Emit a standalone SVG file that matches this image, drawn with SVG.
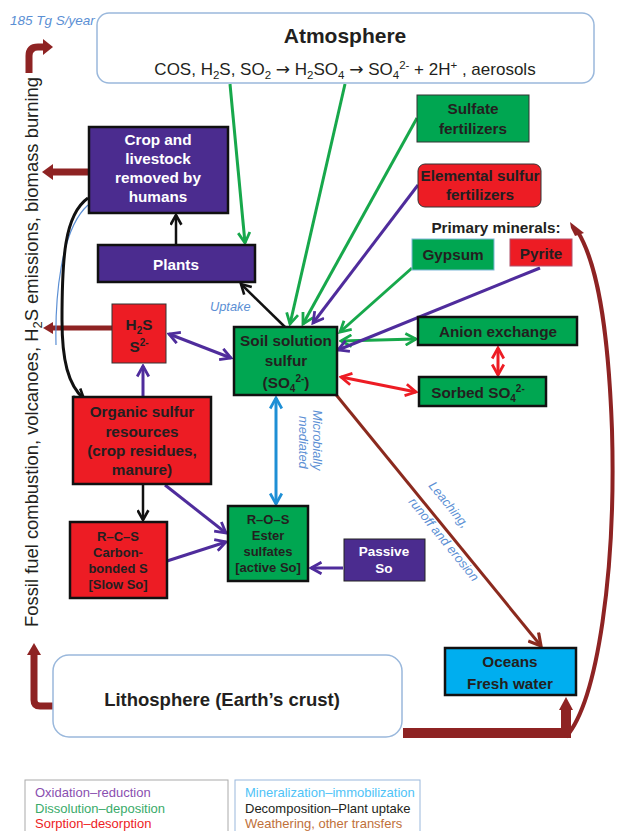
<svg xmlns="http://www.w3.org/2000/svg" width="618" height="831" viewBox="0 0 618 831">
<style>
.t{font-family:"Liberation Sans",Arial,sans-serif;}
.b{font-family:"Liberation Sans",Arial,sans-serif;font-weight:bold;font-size:15.3px;fill:#231f20;text-anchor:middle;}
.s{font-size:13px;}
.w{fill:#ffffff;}
.lab{font-family:"Liberation Sans",Arial,sans-serif;font-style:italic;font-size:12.8px;fill:#5b8fd4;}
.pur{fill:#4b2c8f;stroke:#111;stroke-width:2.5;}
.grn{fill:#00a651;stroke:#111;stroke-width:2.5;}
.red{fill:#ed1c24;stroke:#111;stroke-width:2.5;}
.cyn{fill:#00aeef;stroke:#111;stroke-width:2.5;}
.cg{stroke:#17a84b;stroke-width:3;fill:none;}
.cp{stroke:#4f2c9c;stroke-width:3;fill:none;}
.cr{stroke:#ed1c24;stroke-width:3;fill:none;}
.cb{stroke:#1e8fd5;stroke-width:3;fill:none;}
.ck{stroke:#111;stroke-width:2.5;fill:none;}
.bw{fill:#8e2323;}
.ar{font-family:"DejaVu Sans",sans-serif;}
.leg{font-family:"Liberation Sans",Arial,sans-serif;font-size:13px;}
</style>
<defs>
<marker id="ag" viewBox="0 0 12 12" refX="10" refY="6" markerWidth="14" markerHeight="14" markerUnits="userSpaceOnUse" orient="auto-start-reverse"><path d="M1,1 L10,6 L1,11" fill="none" stroke="#17a84b" stroke-width="2.4"/></marker>
<marker id="ap" viewBox="0 0 12 12" refX="10" refY="6" markerWidth="14" markerHeight="14" markerUnits="userSpaceOnUse" orient="auto-start-reverse"><path d="M1,1 L10,6 L1,11" fill="none" stroke="#4f2c9c" stroke-width="2.4"/></marker>
<marker id="ar" viewBox="0 0 12 12" refX="10" refY="6" markerWidth="14" markerHeight="14" markerUnits="userSpaceOnUse" orient="auto-start-reverse"><path d="M1,1 L10,6 L1,11" fill="none" stroke="#ed1c24" stroke-width="2.4"/></marker>
<marker id="ab" viewBox="0 0 12 12" refX="10" refY="6" markerWidth="14" markerHeight="14" markerUnits="userSpaceOnUse" orient="auto-start-reverse"><path d="M1,1 L10,6 L1,11" fill="none" stroke="#1e8fd5" stroke-width="2.4"/></marker>
<marker id="ak" viewBox="0 0 12 12" refX="10" refY="6" markerWidth="13" markerHeight="13" markerUnits="userSpaceOnUse" orient="auto-start-reverse"><path d="M1,1 L10,6 L1,11" fill="none" stroke="#111" stroke-width="2.4"/></marker>
<marker id="aw" viewBox="0 0 12 12" refX="10" refY="6" markerWidth="16" markerHeight="16" markerUnits="userSpaceOnUse" orient="auto"><path d="M1,1 L10,6 L1,11" fill="none" stroke="#8b2a1e" stroke-width="2.4"/></marker>
</defs>
<rect width="618" height="831" fill="#ffffff"/>

<!-- side text -->
<text class="lab" x="10" y="25" style="font-size:13.5px">185 Tg S/year</text>
<text class="t" transform="translate(38,352) rotate(-90)" font-size="18.4" text-anchor="middle" fill="#231f20">Fossil fuel combustion, volcanoes, H<tspan font-size="13" dy="4">2</tspan><tspan dy="-4">S emissions, biomass burning</tspan></text>

<g id="connectors">
  <!-- brown block arrows -->
  <path d="M29,73 L29,56 Q29,47 38,47 L44,47" stroke="#8e2323" stroke-width="7" fill="none"/>
  <polygon class="bw" points="43,39 53,47 43,55"/>
  <line x1="88" y1="172" x2="52" y2="172" stroke="#8e2323" stroke-width="7"/>
  <polygon class="bw" points="53,164 42,172 53,180"/>
  <line x1="112" y1="328" x2="52" y2="328" stroke="#8e2323" stroke-width="5"/>
  <polygon class="bw" points="53,322 43,328 53,334"/>
  <path d="M54,706 L40,706 Q34,706 34,700 L34,654" stroke="#8e2323" stroke-width="7" fill="none"/>
  <polygon class="bw" points="27,655 34,643 41,655"/>
  <path d="M403,733 L566,733 L566,708" stroke="#8e2323" stroke-width="10" fill="none"/>
  <polygon class="bw" points="559,710 566,697 573,710"/>
  <path d="M566,737 C598,700 616,570 612,430 C608,320 596,262 578,232" stroke="#8e2323" stroke-width="4" fill="none"/>
  <polygon class="bw" points="570,222 584,233 575,236 571,228"/>

  <!-- green -->
  <line class="cg" x1="230" y1="84" x2="245" y2="243" marker-end="url(#ag)"/>
  <line class="cg" x1="345" y1="84" x2="290" y2="324" marker-end="url(#ag)"/>
  <line class="cg" x1="417" y1="118" x2="303" y2="324" marker-end="url(#ag)"/>
  <line class="cg" x1="412" y1="268" x2="340" y2="332" marker-end="url(#ag)"/>
  <line class="cg" x1="341" y1="341" x2="416" y2="339" marker-start="url(#ag)" marker-end="url(#ag)"/>
  <!-- purple -->
  <line class="cp" x1="418" y1="185" x2="313" y2="323" marker-end="url(#ap)"/>
  <line class="cp" x1="540" y1="268" x2="338" y2="350" marker-end="url(#ap)"/>
  <line class="cp" x1="169" y1="334" x2="231" y2="358" marker-start="url(#ap)" marker-end="url(#ap)"/>
  <line class="cp" x1="143" y1="397" x2="143" y2="366" marker-end="url(#ap)"/>
  <line class="cp" x1="165" y1="485" x2="226" y2="533" marker-end="url(#ap)"/>
  <line class="cp" x1="167" y1="561" x2="226" y2="542" marker-end="url(#ap)"/>
  <line class="cp" x1="343" y1="568" x2="311" y2="568" marker-end="url(#ap)"/>
  <!-- red -->
  <line class="cr" x1="498" y1="348" x2="498" y2="375" marker-start="url(#ar)" marker-end="url(#ar)"/>
  <line class="cr" x1="341" y1="377" x2="416" y2="392" marker-start="url(#ar)" marker-end="url(#ar)"/>
  <!-- blue -->
  <line class="cb" x1="276" y1="398" x2="276" y2="504" marker-start="url(#ab)" marker-end="url(#ab)"/>
  <!-- black -->
  <line class="ck" x1="176" y1="245" x2="176" y2="215" marker-end="url(#ak)"/>
  <line class="ck" x1="285" y1="327" x2="241" y2="284" marker-end="url(#ak)"/>
  <line class="ck" x1="143" y1="485" x2="143" y2="520" marker-end="url(#ak)"/>
  <path d="M88,205 C60,230 55,300 56,345" stroke="#5b8fd4" stroke-width="1.2" fill="none"/>
  <path d="M88,198 C64,215 62,260 62,320 C62,360 68,385 84,399" stroke="#111" stroke-width="3" fill="none" marker-end="url(#ak)"/>
  <!-- leaching -->
  <line x1="333" y1="391" x2="541" y2="646" stroke="#8b2a1e" stroke-width="3" marker-end="url(#aw)"/>
</g>

<!-- connector labels -->
<text class="lab" x="210" y="311">Uptake</text>
<text class="lab" transform="translate(313,410) rotate(90)">Microbially</text>
<text class="lab" transform="translate(299,416) rotate(90)">mediated</text>
<text class="lab" transform="translate(428,486) rotate(51)">Leaching,</text>
<text class="lab" transform="translate(408,502) rotate(51)">runoff and erosion</text>

<g id="atmosphere">
  <rect x="97" y="13" width="497" height="70" rx="12" fill="#fff" stroke="#9ab8dc" stroke-width="1.5"/>
  <text class="t" x="345" y="43" font-size="21" font-weight="bold" text-anchor="middle" fill="#231f20">Atmosphere</text>
  <text class="t" x="345" y="75" font-size="17" text-anchor="middle" fill="#231f20">COS, H<tspan font-size="11.5" dy="4">2</tspan><tspan dy="-4">S, SO</tspan><tspan font-size="11.5" dy="4">2</tspan><tspan dy="-4"> </tspan><tspan class="ar">→</tspan><tspan> H</tspan><tspan font-size="11.5" dy="4">2</tspan><tspan dy="-4">SO</tspan><tspan font-size="11.5" dy="4">4</tspan><tspan dy="-4"> </tspan><tspan class="ar">→</tspan><tspan> SO</tspan><tspan font-size="11.5" dy="4">4</tspan><tspan font-size="11.5" dy="-10">2-</tspan><tspan dy="6"> + 2H</tspan><tspan font-size="11.5" dy="-6">+</tspan><tspan dy="6"> , aerosols</tspan></text>
</g>

<g id="crop">
  <rect class="pur" x="89" y="127" width="139" height="86"/>
  <text class="b w" x="158" y="145">Crop and</text>
  <text class="b w" x="158" y="164">livestock</text>
  <text class="b w" x="158" y="183">removed by</text>
  <text class="b w" x="158" y="202">humans</text>
</g>
<g id="plants">
  <rect class="pur" x="98" y="245" width="157" height="37"/>
  <text class="b w" x="176" y="270">Plants</text>
</g>
<g id="sulfate-fert">
  <rect x="417" y="95" width="112" height="47" fill="#00a651" stroke="#333" stroke-width="1"/>
  <text class="b" x="473" y="114">Sulfate</text>
  <text class="b" x="473" y="134">fertilizers</text>
</g>
<g id="elemental-fert">
  <rect x="418" y="164" width="123" height="43" rx="7" fill="#ed1c24" stroke="#333" stroke-width="1"/>
  <text class="b" x="480" y="181">Elemental sulfur</text>
  <text class="b" x="480" y="200">fertilizers</text>
</g>
<text class="b" x="496" y="233">Primary minerals:</text>
<g id="gypsum">
  <rect x="412" y="239" width="82" height="31" fill="#00a651" stroke="#7fb8d8" stroke-width="1"/>
  <text class="b" x="453" y="260">Gypsum</text>
</g>
<g id="pyrite">
  <rect x="510" y="239" width="62" height="27" fill="#ed1c24" stroke="#b0506a" stroke-width="1"/>
  <text class="b" x="541" y="259">Pyrite</text>
</g>
<g id="h2s">
  <rect x="112" y="304" width="54" height="59" fill="#ed1c24" stroke="#333" stroke-width="1"/>
  <text class="b" x="139" y="330">H<tspan font-size="10" dy="4">2</tspan><tspan dy="-4">S</tspan></text>
  <text class="b" x="139" y="352">S<tspan font-size="10" dy="-6">2-</tspan></text>
</g>
<g id="soil">
  <rect class="grn" x="234" y="327" width="103" height="68"/>
  <text class="b" x="286" y="346">Soil solution</text>
  <text class="b" x="286" y="366">sulfur</text>
  <text class="b" x="286" y="388">(SO<tspan font-size="10" dy="4">4</tspan><tspan font-size="10" dy="-10">2-</tspan><tspan dy="6">)</tspan></text>
</g>
<g id="anion">
  <rect class="grn" x="418" y="317" width="159" height="28"/>
  <text class="b" x="498" y="337">Anion exchange</text>
</g>
<g id="sorbed">
  <rect class="grn" x="419" y="377" width="127" height="29"/>
  <text class="b" x="478" y="398">Sorbed SO<tspan font-size="10" dy="4">4</tspan><tspan font-size="10" dy="-10">2-</tspan></text>
</g>
<g id="organic">
  <rect class="red" x="73" y="397" width="138" height="87"/>
  <text class="b" x="142" y="417">Organic sulfur</text>
  <text class="b" x="142" y="437">resources</text>
  <text class="b" x="142" y="456">(crop residues,</text>
  <text class="b" x="142" y="475">manure)</text>
</g>
<g id="rcs">
  <rect class="red" x="70" y="522" width="97" height="76"/>
  <text class="b s" x="118" y="541">R–C–S</text>
  <text class="b s" x="118" y="557">Carbon-</text>
  <text class="b s" x="118" y="573">bonded S</text>
  <text class="b s" x="118" y="589">[Slow So]</text>
</g>
<g id="ros">
  <rect class="grn" x="228" y="506" width="80" height="75"/>
  <text class="b s" x="268" y="524">R–O–S</text>
  <text class="b s" x="268" y="540">Ester</text>
  <text class="b s" x="268" y="556">sulfates</text>
  <text class="b s" x="268" y="572">[active So]</text>
</g>
<g id="passive">
  <rect x="344" y="539" width="81" height="42" fill="#4b2c8f" stroke="#222" stroke-width="1"/>
  <text class="b w" x="384" y="556" style="font-size:13.5px">Passive</text>
  <text class="b w" x="384" y="573" style="font-size:13.5px">So</text>
</g>
<g id="oceans">
  <rect class="cyn" x="445" y="648" width="131" height="47"/>
  <text class="b" x="510" y="667">Oceans</text>
  <text class="b" x="510" y="689">Fresh water</text>
</g>
<g id="lithosphere">
  <rect x="53" y="655" width="349" height="82" rx="16" fill="#fff" stroke="#9ab8dc" stroke-width="1.5"/>
  <text class="t" x="222" y="706" font-size="18.5" font-weight="bold" text-anchor="middle" fill="#231f20">Lithosphere (Earth’s crust)</text>
</g>

<g id="legend">
  <rect x="25" y="780" width="203" height="55" fill="#fff" stroke="#aaa" stroke-width="1"/>
  <text class="leg" x="35" y="797" fill="#8a4fb0">Oxidation–reduction</text>
  <text class="leg" x="35" y="813" fill="#3aab6a">Dissolution–deposition</text>
  <text class="leg" x="35" y="828" fill="#ed1c24">Sorption–desorption</text>
  <rect x="235" y="780" width="185" height="55" fill="#fff" stroke="#9ab8dc" stroke-width="1"/>
  <text class="leg" x="245" y="797" fill="#4fc3f7">Mineralization–immobilization</text>
  <text class="leg" x="245" y="813" fill="#231f20">Decomposition–Plant uptake</text>
  <text class="leg" x="245" y="828" fill="#c0703a">Weathering, other transfers</text>
</g>
</svg>
